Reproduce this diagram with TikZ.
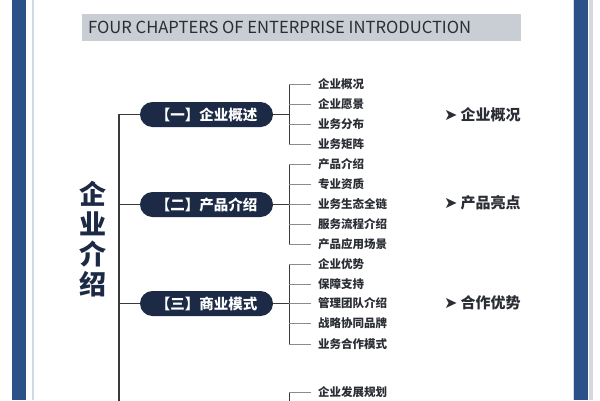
\documentclass[tikz,border=0pt]{standalone}
\usepackage{fontspec}
\newfontfamily\cjk{Noto Sans CJK SC}
\newfontfamily\symf{DejaVu Sans}
\definecolor{navy}{HTML}{1C2A46}
\definecolor{bluebar}{HTML}{2B5189}
\definecolor{titlegray}{HTML}{C9CDD4}
\definecolor{textdark}{HTML}{2A2D33}
\definecolor{linegray}{HTML}{3A3A3A}
\definecolor{tickgray}{HTML}{8C8C8C}
\definecolor{edgeline}{HTML}{D4DAE3}
\tikzset{
  pill/.style={fill=navy, text=white, rounded corners=12.5pt, minimum width=133pt, minimum height=25pt, inner sep=0pt, font=\cjk\bfseries\fontsize{14.5}{14.5}\selectfont},
  item/.style={anchor=west, inner sep=0pt, text=textdark, font=\cjk\bfseries\fontsize{11.5}{12}\selectfont},
  sidelabel/.style={anchor=west, inner sep=0pt, text=textdark, font=\cjk\bfseries\fontsize{15}{15}\selectfont},
  mainline/.style={draw=linegray, line width=1.2pt},
  bracket/.style={draw=linegray, line width=0.9pt},
  tick/.style={draw=tickgray, line width=0.9pt},
  vchar/.style={inner sep=0pt, text=navy, font=\cjk\bfseries\fontsize{27}{27}\selectfont}
}
\begin{document}
\begin{tikzpicture}[x=1pt,y=-1pt]
\useasboundingbox (0,0) rectangle (600,400);
\fill[white] (0,0) rectangle (600,400);
% frame bars
\fill[bluebar] (12,0) rectangle (26,400);
\fill[edgeline] (31.5,0) rectangle (33.5,400);
\fill[edgeline] (572.5,0) rectangle (574,400);
\fill[bluebar] (574,0) rectangle (587.5,400);
\fill[titlegray!80] (589,0) rectangle (593,400);
% title
\node[fill=titlegray, minimum width=439pt, minimum height=27pt, inner sep=0pt] (title) at (301.5,27.5) {};
\node[anchor=west, inner sep=0pt, text=textdark, font=\cjk\fontsize{16.6}{17}\selectfont] (titletext) at (88,27.5) {FOUR CHAPTERS OF ENTERPRISE INTRODUCTION};
% vertical title
\node[vchar] (v1) at (93,194) {企};
\node[vchar] (v2) at (93,224) {业};
\node[vchar] (v3) at (93,254) {介};
\node[vchar] (v4) at (93,284) {绍};
% main trunk
\coordinate (trunktop) at (119,114);
\coordinate (trunkbot) at (119,401);
\draw[mainline] (trunktop) -- (trunkbot);
% pills
\node[pill] (p1) at (206.5,114.5) {【一】企业概述};
\node[pill] (p2) at (206.5,204.5) {【二】产品介绍};
\node[pill] (p3) at (206.5,303.5) {【三】商业模式};
\coordinate (t1) at (119,114.5);
\coordinate (t2) at (119,204.5);
\coordinate (t3) at (119,303.5);
\draw[mainline] (t1) -- (p1.west);
\draw[mainline] (t2) -- (p2.west);
\draw[mainline] (t3) -- (p3.west);
% bracket joints
\coordinate (b1) at (289,114.5);
\coordinate (b2) at (289,204.5);
\coordinate (b3) at (289,303.5);
\draw[bracket] (p1.east) -- (b1);
\draw[bracket] (p2.east) -- (b2);
\draw[bracket] (p3.east) -- (b3);
% items group 1
\node[item] (i11) at (318,84) {企业概况};
\node[item] (i12) at (318,104) {企业愿景};
\node[item] (i13) at (318,124) {业务分布};
\node[item] (i14) at (318,144) {业务矩阵};
% group 2
\node[item] (i21) at (318,164) {产品介绍};
\node[item] (i22) at (318,184) {专业资质};
\node[item] (i23) at (318,204) {业务生态全链};
\node[item] (i24) at (318,224) {服务流程介绍};
\node[item] (i25) at (318,244) {产品应用场景};
% group 3
\node[item] (i31) at (318,264) {企业优势};
\node[item] (i32) at (318,284) {保障支持};
\node[item] (i33) at (318,303) {管理团队介绍};
\node[item] (i34) at (318,323) {战略协同品牌};
\node[item] (i35) at (318,344) {业务合作模式};
% group 4
\node[item] (i41) at (318,392) {企业发展规划};
\coordinate (g4bot) at (289,401);
% brackets
\draw[bracket] ([xshift=-29pt]i11.west) -- ([xshift=-29pt]i14.west);
\draw[bracket] ([xshift=-29pt]i21.west) -- ([xshift=-29pt]i25.west);
\draw[bracket] ([xshift=-29pt]i31.west) -- ([xshift=-29pt]i35.west);
\draw[bracket] ([xshift=-29pt]i41.west) -- (g4bot);
\foreach \n in {i11,i12,i13,i14,i21,i22,i23,i24,i25,i31,i32,i33,i34,i35,i41}{
  \draw[tick] ([xshift=-29pt]\n.west) -- ([xshift=-7pt]\n.west);
}
% side labels
\node[sidelabel] (s1) at (444,115) {{\symf\fontsize{16}{16}\selectfont ➤}\hspace{3pt}企业概况};
\node[sidelabel] (s2) at (444,203) {{\symf\fontsize{16}{16}\selectfont ➤}\hspace{3pt}产品亮点};
\node[sidelabel] (s3) at (444,303) {{\symf\fontsize{16}{16}\selectfont ➤}\hspace{3pt}合作优势};
\end{tikzpicture}
\end{document}
